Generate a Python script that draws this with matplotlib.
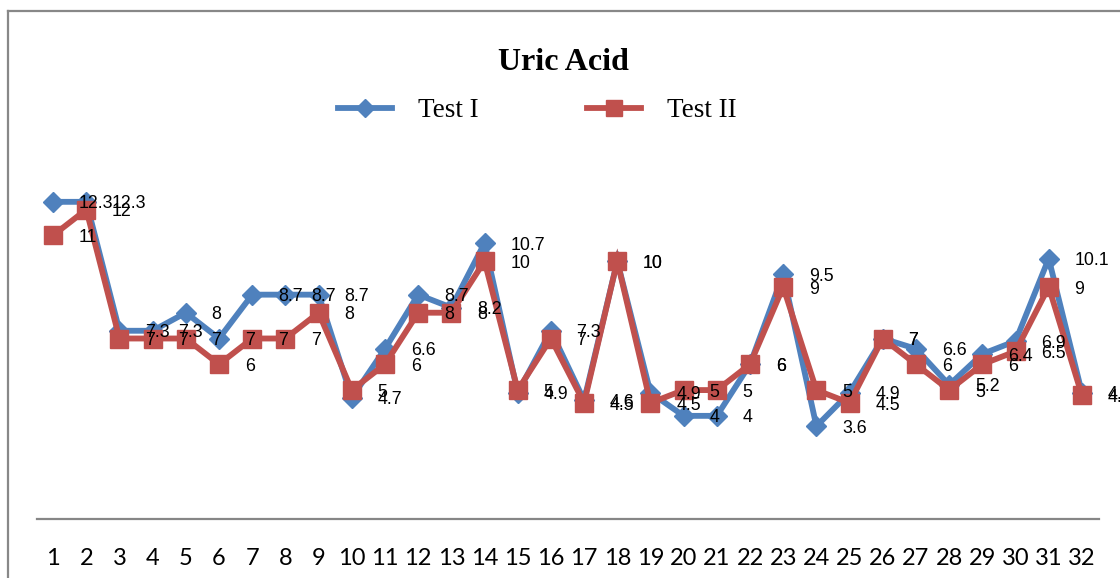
import matplotlib
matplotlib.use("Agg")
import matplotlib.pyplot as plt
from matplotlib.lines import Line2D

# sample numbers 1..32
samples = list(range(1, 33))

test1 = [12.3, 12.3, 7.3, 7.3, 8, 7, 8.7, 8.7, 8.7, 4.7, 6.6, 8.7, 8.2, 10.7, 4.9, 7.3,
         4.6, 10, 4.9, 4, 4, 6, 9.5, 3.6, 4.9, 7, 6.6, 5.2, 6.4, 6.9, 10.1, 4.9]
test2 = [11, 12, 7, 7, 7, 6, 7, 7, 8, 5, 6, 8, 8, 10, 5, 7,
         4.5, 10, 4.5, 5, 5, 6, 9, 5, 4.5, 7, 6, 5, 6, 6.5, 9, 4.8]

series_names = ["Test I", "Test II"]
blue = "#4F81BD"
red = "#C0504D"

W, H = 1120, 578
fig = plt.figure(figsize=(W / 100, H / 100), dpi=100)

# axes placed in pixel terms
x0, x1 = 36.5, 1098.5
y_bottom, y_top = 519, 158
ax = fig.add_axes([x0 / W, (H - y_bottom) / H, (x1 - x0) / W, (y_bottom - y_top) / H])

l1, = ax.plot(samples, test1, color=blue, lw=4.2, marker="D", ms=10,
              solid_joinstyle="miter", zorder=3)
l2, = ax.plot(samples, test2, color=red, lw=4.2, marker="s", ms=13.5,
              solid_joinstyle="miter", zorder=4)

# data labels to the right of each point
for vals in (test1, test2):
    for x, v in zip(samples, vals):
        ax.annotate(f"{v:g}", (x, v), xytext=(18.5, -1.5), textcoords="offset points",
                    ha="left", va="center", fontsize=12.8, family="Liberation Sans",
                    color="black", zorder=6, annotation_clip=False)

ax.set_xlim(0.5, 32.5)
ax.set_ylim(0, 14)
ax.set_xticks(samples)
ax.set_xticklabels([str(s) for s in samples], family=["Lato", "DejaVu Sans"], fontsize=17)
ax.tick_params(axis="x", length=0, pad=21)
ax.set_yticks([])
for side in ("left", "right", "top"):
    ax.spines[side].set_visible(False)
ax.spines["bottom"].set_color("#868686")
ax.spines["bottom"].set_linewidth(1.6)
ax.patch.set_visible(False)

# chart title
fig.text(563 / W, 1 - 70 / H, "Uric Acid", ha="center", va="baseline",
         family="Liberation Serif", fontweight="bold", fontsize=23)

# legend on top
leg = fig.legend([l1, l2], series_names, loc="center", ncol=2,
                 bbox_to_anchor=(537 / W, 1 - 111 / H), frameon=False,
                 prop={"family": "Liberation Serif", "size": 19.5},
                 handlelength=2.0, handletextpad=0.95, columnspacing=4.0,
                 markerscale=0.9)

# outer chart frame (left and top edges)
fig.add_artist(Line2D([7.5 / W, 7.5 / W], [0, 1 - 11 / H], color="#888888", lw=1.6,
                      transform=fig.transFigure))
fig.add_artist(Line2D([7.5 / W, 1], [1 - 11 / H, 1 - 11 / H], color="#888888", lw=1.6,
                      transform=fig.transFigure))

fig.savefig("out.png", dpi=100)
